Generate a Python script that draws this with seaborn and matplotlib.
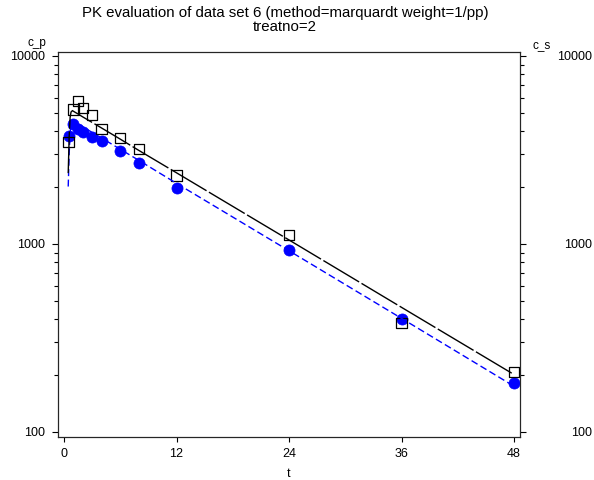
import numpy as np
import pandas as pd
import seaborn as sns
import matplotlib.pyplot as plt
from matplotlib.ticker import FixedLocator, NullFormatter

# observed values
t_obs = [0.5, 1, 1.5, 2, 3, 4, 6, 8, 12, 24, 36, 48]
c_p_obs = [3475, 5200, 5740, 5280, 4840, 4100, 3660, 3190, 2317, 1112, 381, 209]
c_s_obs = [3750, 4345, 4070, 3930, 3706, 3530, 3110, 2698, 1990, 925, 399, 182]

# fitted curves
t_fit_p = [0.45, 0.55, 0.65, 0.75, 0.9, 1, 1.5, 2, 3, 4, 6, 8, 12, 24, 36, 48]
fit_p = [2380, 3700, 4700, 5030, 5120, 5080, 4910, 4740, 4430, 4140, 3610, 3140, 2390, 1050, 460, 202]
t_fit_s = [0.45, 0.55, 0.65, 0.78, 1, 1.5, 2, 3, 4, 6, 8, 12, 24, 36, 48]
fit_s = [2020, 3000, 3900, 4420, 4500, 4350, 4200, 3920, 3660, 3190, 2780, 2100, 920, 402, 175]

x_ticks = [0, 12, 24, 36, 48]
y_ticks = [100, 1000, 10000]
y_minor = [m * d for d in (100, 1000) for m in range(2, 10)]

sns.set_style('ticks')
plt.rcParams['font.family'] = ['Liberation Sans', 'DejaVu Sans']
plt.rcParams['lines.scale_dashes'] = False
plt.rcParams['text.color'] = 'black'

obs = pd.DataFrame({'t': t_obs, 'c_p': c_p_obs, 'c_s': c_s_obs})
fp = pd.DataFrame({'t': t_fit_p, 'c': fit_p})
fs = pd.DataFrame({'t': t_fit_s, 'c': fit_s})

fig = plt.figure(figsize=(5.94, 4.80), dpi=100)
ax = fig.add_axes([58 / 594, 1 - 437 / 480, 462 / 594, 385 / 480])

sns.scatterplot(data=obs, x='t', y='c_s', marker='o', s=64, color='#0000ff',
                edgecolor='#0000ff', linewidth=0.5, ax=ax, zorder=3)
sns.scatterplot(data=obs, x='t', y='c_p', marker='s', s=56, facecolor='none',
                edgecolor='black', linewidth=0.9, ax=ax, zorder=4)
sns.lineplot(data=fs, x='t', y='c', color='#0000ff', linewidth=1.0,
             linestyle=(0, (5, 2.5)), ax=ax, zorder=5)
sns.lineplot(data=fp, x='t', y='c', color='black', linewidth=1.0,
             linestyle=(0, (30, 2)), ax=ax, zorder=6)

ax.set_yscale('log')
ylim = (10 ** 1.973, 10 ** 4.021)
ax.set_ylim(*ylim)
ax.set_xlim(-0.64, 48.64)
ax.set_xticks(x_ticks)
ax.set_xticklabels([str(v) for v in x_ticks])
ax.yaxis.set_major_locator(FixedLocator(y_ticks))
ax.yaxis.set_minor_locator(FixedLocator(y_minor))
ax.yaxis.set_minor_formatter(NullFormatter())
ax.set_yticklabels([str(v) for v in y_ticks])
ax.set_xlabel('t', fontsize=9, labelpad=6, color='black')
ax.set_ylabel('')
for sp in ax.spines.values():
    sp.set_visible(True)
    sp.set_linewidth(0.8)
    sp.set_color('black')
ax.tick_params(axis='x', length=3.6, width=0.8, pad=4, labelsize=9, colors='black')
ax.tick_params(axis='y', which='major', length=4.3, width=0.8, pad=5, labelsize=9, colors='black')
ax.tick_params(axis='y', which='minor', length=3, width=0.8, colors='black')

ax2 = ax.twinx()
ax2.set_yscale('log')
ax2.set_ylim(*ylim)
ax2.yaxis.set_major_locator(FixedLocator(y_ticks))
ax2.yaxis.set_minor_locator(FixedLocator(y_minor))
ax2.yaxis.set_minor_formatter(NullFormatter())
ax2.set_yticklabels([str(v) for v in y_ticks])
ax2.tick_params(axis='y', which='major', length=4.3, width=0.8, pad=47.5, labelsize=9, colors='black')
ax2.tick_params(axis='y', which='minor', length=3, width=0.8, colors='black')
for lab in ax2.get_yticklabels():
    lab.set_horizontalalignment('right')
ax2.spines['right'].set_linewidth(0.8)

fig.text(285 / 594, 1 - 13 / 480, 'PK evaluation of data set 6 (method=marquardt weight=1/pp)',
         ha='center', va='center', fontsize=10.8)
fig.text(285 / 594, 1 - 27 / 480, 'treatno=2', ha='center', va='center', fontsize=10.8)
fig.text(37 / 594, 1 - 43 / 480, 'c_p', ha='center', va='center', fontsize=8.5)
fig.text(542 / 594, 1 - 45 / 480, 'c_s', ha='center', va='center', fontsize=8.5)

fig.savefig('out.png', dpi=100)
